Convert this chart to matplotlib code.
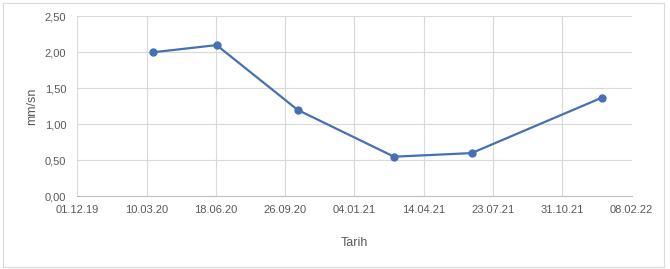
import datetime as dt
import matplotlib
matplotlib.use("Agg")
import matplotlib.pyplot as plt
import matplotlib.dates as mdates
from matplotlib.patches import Rectangle
from matplotlib.ticker import FuncFormatter

dates = ["2020-03-19", "2020-06-19", "2020-10-14", "2021-03-02", "2021-06-22", "2021-12-27"]
values = [2.00, 2.10, 1.20, 0.55, 0.60, 1.37]
tickStart = "2019-12-01"
tickStepDays = 100
tickCount = 9
yTicks = [0, 0.5, 1.0, 1.5, 2.0, 2.5]
xLabel = "Tarih"
yLabel = "mm/sn"

plt.rcParams["font.family"] = ["Liberation Sans", "DejaVu Sans"]
textColor = "#595959"
gridColor = "#D9D9D9"
lineColor = "#4571B3"

fig = plt.figure(figsize=(6.7, 2.69), dpi=100)
fig.patches.append(Rectangle((3 / 670, 2.5 / 269), 661 / 670, 264 / 269, transform=fig.transFigure,
                             fill=False, edgecolor="#D9D9D9", linewidth=0.8))

ax = fig.add_axes([77.3 / 670, (269 - 196.3) / 269, 554.4 / 670, 180 / 269])

x = [dt.datetime.strptime(d, "%Y-%m-%d") for d in dates]
start = dt.datetime.strptime(tickStart, "%Y-%m-%d")
xTicks = [start + dt.timedelta(days=tickStepDays * i) for i in range(tickCount)]

ax.plot(x, values, color=lineColor, linewidth=1.6, marker="o", markersize=5, zorder=3)

ax.set_xlim(xTicks[0], xTicks[-1])
ax.set_ylim(yTicks[0], yTicks[-1])
ax.set_xticks(xTicks)
ax.xaxis.set_major_formatter(mdates.DateFormatter("%d.%m.%y"))
ax.set_yticks(yTicks)
ax.yaxis.set_major_formatter(FuncFormatter(lambda v, p: ("%.2f" % v).replace(".", ",")))

ax.grid(True, color=gridColor, linewidth=0.8)
ax.get_xgridlines()[-1].set_visible(False)
ax.set_axisbelow(True)

for side in ["top", "right", "left"]:
    ax.spines[side].set_visible(False)
ax.spines["bottom"].set_color("#BFBFBF")
ax.spines["bottom"].set_linewidth(0.8)

ax.tick_params(length=0, labelsize=8, labelcolor=textColor, pad=6)
ax.tick_params(axis="y", pad=8)

ax.set_xlabel(xLabel, fontsize=9, color=textColor, labelpad=16)
ax.set_ylabel(yLabel, fontsize=9, color=textColor, labelpad=5)

plt.savefig("out.png", dpi=100)
